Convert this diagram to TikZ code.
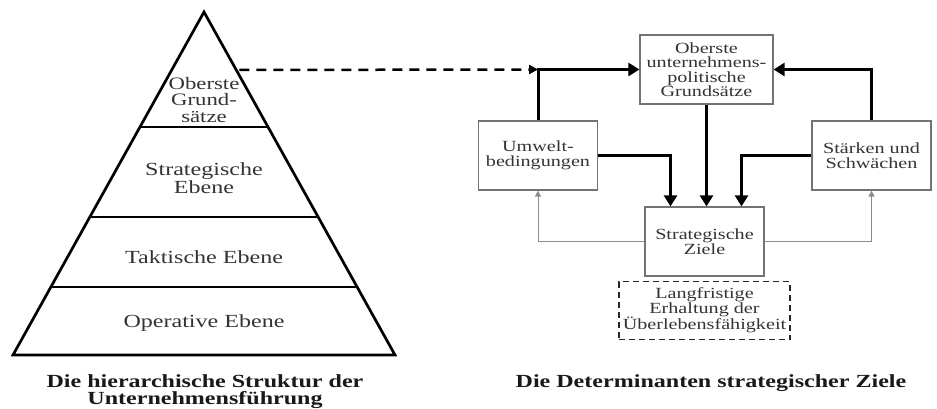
\documentclass[tikz,border=0pt]{standalone}
\usepackage{fontspec}
\setmainfont[FakeStretch=1.3]{Liberation Serif}
\usetikzlibrary{arrows.meta}
\usetikzlibrary{positioning}
\usetikzlibrary{calc}

\tikzset{
  zielbox/.style={draw=black!55, line width=1.2pt, minimum width=119pt, minimum height=69pt,
    inner sep=0pt, align=center, text=black!80, font=\fontsize{15.5}{14.5}\selectfont},
  ebene/.style={align=center, text=black!80, font=\fontsize{18.5}{16}\selectfont},
  titel/.style={align=center, text=black!90, font=\fontsize{18.5}{17}\selectfont\bfseries},
  dick/.style={line width=3pt, -{Triangle[length=11pt,width=13pt]}},
  duenn/.style={draw=black!45, line width=0.9pt, -{Triangle[length=6pt,width=6pt]}}
}

\begin{document}
\begin{tikzpicture}[x=1pt, y=-1pt]
\useasboundingbox (0,0) rectangle (937,409);

%pyramide
\coordinate (spitze) at (204,12);
\coordinate (bl) at (13,355);
\coordinate (br) at (395,355);
\draw[line width=2.7pt, line join=miter] (spitze) -- (bl) -- (br) -- cycle;
\foreach \f in {0.335,0.598,0.802} {
\draw[line width=2.7pt] ($(spitze)!\f!(bl)$) -- ($(spitze)!\f!(br)$);
}
\coordinate (dstart) at ($($(spitze)!0.169!(br)$)+(3,0)$);

%ebenen
\node[ebene, font=\fontsize{17.5}{16.5}\selectfont] (grund) at (204,100) {Oberste\\Grund-\\sätze};
\node[ebene] (strat) at (204,178) {Strategische\\Ebene};
\node[ebene] (takt) at (204,257) {Taktische Ebene};
\node[ebene] (oper) at (204,323) {Operative Ebene};
\node[titel] (titelL) at (205,392) {Die hierarchische Struktur der\\Unternehmensführung};

%determinanten
\node[zielbox, minimum width=133pt] (ober) at (706.5,69.5) {Oberste\\unternehmens-\\politische\\Grundsätze};
\node[zielbox] (umwelt) at (538,155.5) {Umwelt-\\bedingungen};
\node[zielbox] (staerken) at (871.5,155.5) {Stärken und\\Schwächen};
\node[zielbox] (ziele) at (704.5,241.5) {Strategische\\Ziele};
\node[zielbox, draw=black!85, dashed, dash pattern=on 6pt off 4pt, line width=1.8pt,
  minimum width=171pt, minimum height=58pt, below=4pt of ziele] (lang)
  {Langfristige\\Erhaltung der\\Überlebensfähigkeit};
\node[titel] (titelR) at (711,383) {Die Determinanten strategischer Ziele};

%pfeile
\coordinate (ecke) at (umwelt.north |- ober.west);
\draw[line width=2.5pt, dash pattern=on 10pt off 7pt, -{Triangle[length=9pt,width=9pt]}] (dstart) -- (ecke);
\draw[dick] (umwelt.north) |- (ober.west);
\draw[dick] (staerken.north) |- (ober.east);
\draw[dick] (ober.south) -- (ober.south |- ziele.north);
\draw[dick] (umwelt.east) -| ([xshift=-34pt]ziele.north);
\draw[dick] (staerken.west) -| ([xshift=37pt]ziele.north);
\draw[duenn] (ziele.west) -| (umwelt.south);
\draw[duenn] (ziele.east) -| (staerken.south);
\end{tikzpicture}
\end{document}
